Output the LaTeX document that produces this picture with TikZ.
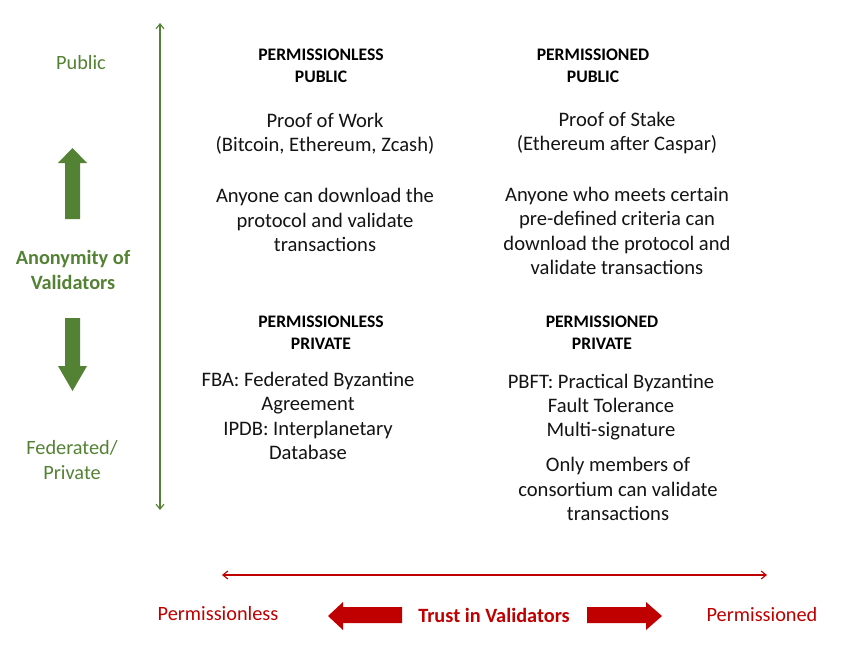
\documentclass[tikz,border=0pt]{standalone}
\usepackage{fontspec}
\setmainfont{Carlito}
\usetikzlibrary{arrows.meta}
\definecolor{gr}{RGB}{84,130,53}
\definecolor{rd}{RGB}{192,0,0}
\definecolor{tx}{RGB}{20,20,20}
\begin{document}
\begin{tikzpicture}[x=1pt,y=-1pt,
  body/.style={align=center,text=tx,font=\fontsize{20.6}{24.3}\selectfont,inner sep=0pt},
  head/.style={align=center,text=black,font=\bfseries\fontsize{17.6}{22}\selectfont,inner sep=0pt},
  glab/.style={align=center,text=gr,font=\fontsize{20.3}{25}\selectfont,inner sep=0pt},
  rlab/.style={align=center,text=rd,font=\fontsize{20.3}{24}\selectfont,inner sep=0pt},
  thin arrow/.style={line width=1.1pt,{Straight Barb[length=5pt,width=8pt]}-{Straight Barb[length=5pt,width=8pt]}}]
\useasboundingbox (0,0) rectangle (850,664);
\fill[white] (0,0) rectangle (850,664);
% axes
\coordinate (vt) at (160,23);
\coordinate (vb) at (160,510);
\draw[thin arrow,gr] (vt) -- (vb);
\coordinate (hl) at (222,575);
\coordinate (hr) at (767,575);
\draw[thin arrow,rd] (hl) -- (hr);
% left labels
\node[glab] (pub) at (81,63) {Public};
\node[glab,font=\bfseries\fontsize{20.3}{25}\selectfont] (anon) at (73,270) {Anonymity of\\Validators};
\node[glab] (fed) at (72,460) {Federated/\\Private};
% block arrows green
\fill[gr] (65,219) -- (65,163) -- (58,163) -- (72.5,148) -- (87,163) -- (80,163) -- (80,219) -- cycle;
\fill[gr] (65,318) -- (65,366) -- (58,366) -- (72.5,391) -- (87,366) -- (80,366) -- (80,318) -- cycle;
% bottom labels
\node[rlab] (pl) at (218,614) {Permissionless};
\node[rlab] (pd) at (762,615) {Permissioned};
\node[rlab,font=\bfseries\fontsize{20.3}{24}\selectfont] (trust) at (494,615) {Trust in Validators};
\fill[rd] (402,607) -- (343,607) -- (343,602) -- (328,616) -- (343,630) -- (343,623) -- (402,623) -- cycle;
\fill[rd] (587,607) -- (646,607) -- (646,602) -- (662,616) -- (646,630) -- (646,623) -- (587,623) -- cycle;
% quadrants
\node[head] (h1) at (321,66) {PERMISSIONLESS\\PUBLIC};
\node[body] (b1a) at (325,134) {Proof of Work\\(Bitcoin, Ethereum, Zcash)};
\node[body] (b1b) at (325,220) {Anyone can download the\\protocol and validate\\transactions};
\node[head] (h2) at (593,66) {PERMISSIONED\\PUBLIC};
\node[body] (b2a) at (617,133) {Proof of Stake\\(Ethereum after Caspar)};
\node[body] (b2b) at (617,231) {Anyone who meets certain\\pre-defined criteria can\\download the protocol and\\validate transactions};
\node[head] (h3) at (321,333) {PERMISSIONLESS\\PRIVATE};
\node[body] (b3) at (308,416) {FBA: Federated Byzantine\\Agreement\\IPDB: Interplanetary\\Database};
\node[head] (h4) at (602,333) {PERMISSIONED\\PRIVATE};
\node[body] (b4a) at (611,407) {PBFT: Practical Byzantine\\Fault Tolerance\\Multi-signature};
\node[body] (b4b) at (618,489) {Only members of\\consortium can validate\\transactions};
\end{tikzpicture}
\end{document}
